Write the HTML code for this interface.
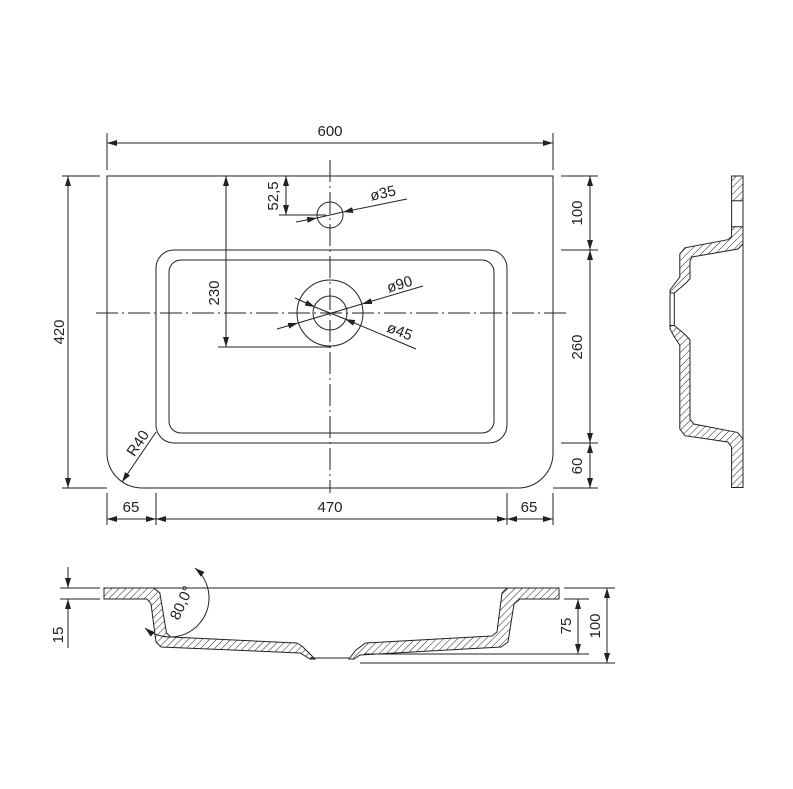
<!DOCTYPE html>
<html><head><meta charset="utf-8"><style>
html,body{margin:0;padding:0;background:#fff}
svg{display:block}
text{font-family:"Liberation Sans",sans-serif;font-size:15px;fill:#222}
</style></head><body>
<svg width="793" height="789" viewBox="0 0 793 789" xmlns="http://www.w3.org/2000/svg">
<defs>
<pattern id="h" patternUnits="userSpaceOnUse" width="5" height="5" patternTransform="rotate(45)">
<rect width="5" height="5" fill="#fff"/><line x1="0" y1="0" x2="0" y2="5" stroke="#222" stroke-width="1"/>
</pattern>
<marker id="a" viewBox="0 0 10 6" refX="10" refY="3" markerWidth="10" markerHeight="6" markerUnits="userSpaceOnUse" orient="auto-start-reverse">
<path d="M0,0L10,3L0,6z" fill="#222"/></marker>
</defs>
<g stroke="#222" stroke-width="1" fill="none">
<path d="M107,176H553V453A35,35 0 0 1 518,488H142A35,35 0 0 1 107,453Z"/>
<rect x="156" y="250" width="351" height="193" rx="18"/>
<rect x="169" y="260" width="325" height="173" rx="12"/>
<circle cx="330" cy="215" r="13"/>
<circle cx="330" cy="313" r="33"/>
<circle cx="330" cy="313" r="17"/>
<line x1="330" y1="160" x2="330" y2="493" stroke-dasharray="22,4,2,4"/>
<line x1="96" y1="313" x2="566" y2="313" stroke-dasharray="22,4,2,4"/>
<line x1="107" y1="133" x2="107" y2="170"/><line x1="553" y1="133" x2="553" y2="170"/>
<line x1="107" y1="143" x2="553" y2="143" marker-start="url(#a)" marker-end="url(#a)"/>
<line x1="62" y1="176" x2="100" y2="176"/><line x1="62" y1="488" x2="107" y2="488"/>
<line x1="68" y1="176" x2="68" y2="488" marker-start="url(#a)" marker-end="url(#a)"/>
<line x1="561" y1="176" x2="598" y2="176"/><line x1="561" y1="250" x2="598" y2="250"/>
<line x1="561" y1="443" x2="598" y2="443"/><line x1="553" y1="488" x2="598" y2="488"/>
<line x1="590" y1="176" x2="590" y2="250" marker-start="url(#a)" marker-end="url(#a)"/>
<line x1="590" y1="250" x2="590" y2="443" marker-start="url(#a)" marker-end="url(#a)"/>
<line x1="590" y1="443" x2="590" y2="488" marker-start="url(#a)" marker-end="url(#a)"/>
<line x1="107" y1="493" x2="107" y2="525"/><line x1="156" y1="493" x2="156" y2="525"/>
<line x1="507" y1="493" x2="507" y2="525"/><line x1="553" y1="493" x2="553" y2="525"/>
<line x1="107" y1="519" x2="156" y2="519" marker-start="url(#a)" marker-end="url(#a)"/>
<line x1="156" y1="519" x2="507" y2="519" marker-start="url(#a)" marker-end="url(#a)"/>
<line x1="507" y1="519" x2="553" y2="519" marker-start="url(#a)" marker-end="url(#a)"/>
<line x1="226" y1="176" x2="226" y2="347" marker-start="url(#a)" marker-end="url(#a)"/>
<line x1="218" y1="347" x2="331" y2="347"/>
<line x1="286" y1="176" x2="286" y2="215" marker-start="url(#a)" marker-end="url(#a)"/>
<line x1="279" y1="215" x2="326" y2="215"/>
<line x1="296" y1="222" x2="317" y2="218" marker-end="url(#a)"/>
<line x1="407" y1="199" x2="343" y2="212" marker-end="url(#a)"/>
<line x1="343" y1="212" x2="317" y2="218"/>
<line x1="277" y1="329" x2="298" y2="323" marker-end="url(#a)"/>
<line x1="423" y1="286" x2="362" y2="304" marker-end="url(#a)"/>
<line x1="298" y1="323" x2="362" y2="304"/>
<line x1="295" y1="298" x2="315" y2="307" marker-end="url(#a)"/>
<line x1="416" y1="349" x2="345" y2="319" marker-end="url(#a)"/>
<line x1="315" y1="307" x2="345" y2="319"/>
<line x1="156" y1="432" x2="122" y2="482" marker-end="url(#a)"/>
<line x1="153" y1="588" x2="507" y2="588"/>
<path d="M104,588H153.5L159.8,592.7L166.5,633L171,637L296.7,643L302,646L315,659H310L300,653L161,647L156,642L151,604L147,599H104Z" fill="url(#h)"/>
<path d="M349,659L356,650L365.5,643L492,636L497,632L502,593L507,588H559V599H520L514,604L508,642L501,647L360,655L354,659Z" fill="url(#h)"/>
<line x1="310" y1="658" x2="349" y2="658"/>
<line x1="360" y1="663" x2="615" y2="663"/>
<line x1="364" y1="654" x2="589" y2="654"/>
<line x1="564" y1="588" x2="615" y2="588"/>
<line x1="564" y1="599" x2="589" y2="599"/>
<line x1="578" y1="599" x2="578" y2="654" marker-start="url(#a)" marker-end="url(#a)"/>
<line x1="607" y1="588" x2="607" y2="663" marker-start="url(#a)" marker-end="url(#a)"/>
<line x1="60" y1="588" x2="100" y2="588"/><line x1="60" y1="599" x2="100" y2="599"/>
<line x1="68" y1="567" x2="68" y2="588" marker-end="url(#a)"/>
<line x1="68" y1="648" x2="68" y2="599" marker-end="url(#a)"/>
<path d="M195,568A38,38 0 0 1 145,628" marker-start="url(#a)" marker-end="url(#a)"/>
<line x1="743" y1="176" x2="743" y2="488"/>
<rect x="731.6" y="176" width="11.4" height="24.8" fill="url(#h)"/>
<line x1="731.6" y1="200.8" x2="731.6" y2="226.7"/>
<path d="M731.6,226.7H743V243.9L738,249L692,257L690,261V278.5L685.6,283.4L674.3,293H670V290L679.8,277V254L685,247.8L727.8,239.7L731.6,236.4Z" fill="url(#h)"/>
<path d="M670,325.5H674.3L685.6,335L690,340V419.5L693.7,424L737.5,432.4L743,439V487.5H731.6V447L727.8,442L685,435.7L679.8,429V345L674.3,337L670,328.8Z" fill="url(#h)"/>
<line x1="670" y1="290" x2="670" y2="328"/><line x1="674.3" y1="293" x2="674.3" y2="325.5"/>
</g>
<text x="330" y="136" text-anchor="middle">600</text>
<text transform="translate(64,332) rotate(-90)" text-anchor="middle">420</text>
<text transform="translate(582,213) rotate(-90)" text-anchor="middle">100</text>
<text transform="translate(582,347) rotate(-90)" text-anchor="middle">260</text>
<text transform="translate(582,466) rotate(-90)" text-anchor="middle">60</text>
<text x="131" y="512" text-anchor="middle">65</text>
<text x="330" y="512" text-anchor="middle">470</text>
<text x="529" y="512" text-anchor="middle">65</text>
<text transform="translate(219,293) rotate(-90)" text-anchor="middle">230</text>
<text transform="translate(278,196) rotate(-90)" text-anchor="middle">52,5</text>
<text transform="translate(384,198) rotate(-13)" text-anchor="middle">ø35</text>
<text transform="translate(401,289) rotate(-17)" text-anchor="middle">ø90</text>
<text transform="translate(398,336) rotate(21)" text-anchor="middle">ø45</text>
<text transform="translate(142,446) rotate(-56)" text-anchor="middle">R40</text>
<text transform="translate(63,635) rotate(-90)" text-anchor="middle">15</text>
<text transform="translate(571,626) rotate(-90)" text-anchor="middle">75</text>
<text transform="translate(600,626) rotate(-90)" text-anchor="middle">100</text>
<text transform="translate(186,605) rotate(-65)" text-anchor="middle">80,0°</text>
</svg>
</body></html>
